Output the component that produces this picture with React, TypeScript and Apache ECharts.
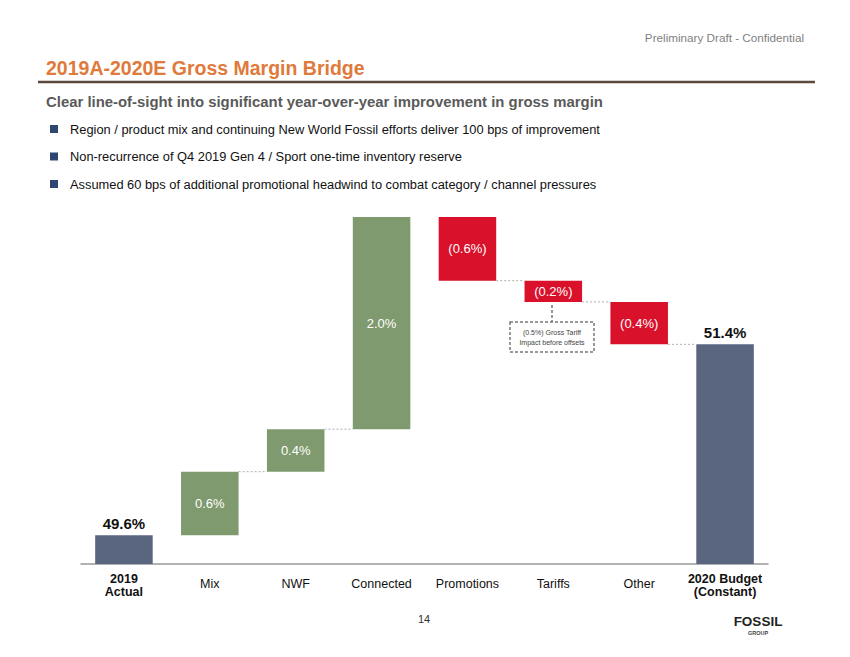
import React, { useEffect, useRef } from "react";
import * as echarts from "echarts";

const categories = ["2019\nActual", "Mix", "NWF", "Connected", "Promotions", "Tariffs", "Other", "2020 Budget\n(Constant)"];
const startValue = 49.6;
const deltas = [0.6, 0.4, 2.0, -0.6, -0.2, -0.4];
const endValue = 51.4;
const connectorFrom = [1, 2, 4, 5, 6];
const bullets = [
  "Region / product mix and continuing New World Fossil efforts deliver 100 bps of improvement",
  "Non-recurrence of Q4 2019 Gen 4 / Sport one-time inventory reserve",
  "Assumed 60 bps of additional promotional headwind to combat category / channel pressures",
];

const NAVY = "#5a6680";
const GREEN = "#7f9a6e";
const RED = "#d9112b";
const FONT = "Liberation Sans, Arial, sans-serif";

export default function App() {
  const ref = useRef<HTMLDivElement>(null);
  useEffect(() => {
    if (!ref.current) return;
    const chart = echarts.init(ref.current, undefined, { renderer: "svg" });

    const helper: (number | string)[] = ["-"];
    const visible: any[] = [];
    const levels: number[] = [startValue];
    visible.push({
      value: startValue,
      itemStyle: { color: NAVY },
      label: { show: true, position: "top", distance: 4, color: "#111", fontWeight: "bold", fontSize: 15, formatter: startValue.toFixed(1) + "%" },
    });
    let run = startValue;
    deltas.forEach((d) => {
      const base = d >= 0 ? run : run + d;
      helper.push(base);
      visible.push({
        value: Math.abs(d),
        itemStyle: { color: d >= 0 ? GREEN : RED },
        label: {
          show: true,
          position: "inside",
          color: "#fff",
          fontSize: 13,
          formatter: d >= 0 ? d.toFixed(1) + "%" : "(" + Math.abs(d).toFixed(1) + "%)",
        },
      });
      run = run + d;
      levels.push(run);
    });
    helper.push("-");
    visible.push({
      value: endValue,
      itemStyle: { color: NAVY },
      label: { show: true, position: "top", distance: 4, color: "#111", fontWeight: "bold", fontSize: 15, formatter: endValue.toFixed(1) + "%" },
    });

    const connectors = connectorFrom.map((i) => [i, levels[i]]);

    const textEl = (x: number, y: number, text: string, style: any) => ({
      type: "text",
      x,
      y,
      style: { text, fontFamily: FONT, textVerticalAlign: "middle", ...style },
    });

    const graphic: any[] = [
      textEl(804, 37, "Preliminary Draft - Confidential", { fill: "#7f7f7f", fontSize: 11.7, textAlign: "right" }),
      textEl(46, 68, "2019A-2020E Gross Margin Bridge", { fill: "#e07a3a", fontSize: 19.5, fontWeight: "bold" }),
      { type: "line", shape: { x1: 38, y1: 82, x2: 815, y2: 82 }, style: { stroke: "#5b4a3c", lineWidth: 2.5 } },
      textEl(46, 102, "Clear line-of-sight into significant year-over-year improvement in gross margin", { fill: "#5a5a5a", fontSize: 14.9, fontWeight: "bold" }),
      textEl(424, 619, "14", { fill: "#333", fontSize: 11, textAlign: "center" }),
      textEl(758, 621, "FOSSIL", { fill: "#222", fontSize: 13.5, fontWeight: "bold", textAlign: "center" }),
      textEl(758, 633, "GROUP", { fill: "#444", fontSize: 5.5, fontWeight: "bold", textAlign: "center" }),
      { type: "line", shape: { x1: 552, y1: 305, x2: 552, y2: 322 }, style: { stroke: "#777", lineWidth: 1.5, lineDash: [3, 2] } },
      { type: "rect", shape: { x: 510, y: 322, width: 84, height: 30 }, style: { fill: "#fff", stroke: "#777", lineWidth: 1.5, lineDash: [3, 2] } },
      textEl(552, 332, "(0.5%) Gross Tariff", { fill: "#444", fontSize: 7, textAlign: "center" }),
      textEl(552, 342, "Impact before offsets", { fill: "#444", fontSize: 7, textAlign: "center" }),
    ];
    bullets.forEach((b, i) => {
      const y = 129 + i * 27.5;
      graphic.push({ type: "rect", shape: { x: 50, y: y - 4, width: 8, height: 8 }, style: { fill: "#2e4670" } });
      graphic.push(textEl(70, y, b, { fill: "#111", fontSize: 12.85 }));
    });

    const lastIdx = categories.length - 1;
    chart.setOption({
      animation: false,
      textStyle: { fontFamily: FONT },
      grid: { left: 81, right: 82, top: 217, bottom: 93 },
      xAxis: {
        type: "category",
        data: categories.map((c, i) => {
          const isTotal = i === 0 || i === lastIdx;
          return {
            value: c,
            textStyle: isTotal ? { fontWeight: "bold" } : { fontWeight: "normal", padding: [5, 0, 0, 0] },
          };
        }),
        axisLine: { lineStyle: { color: "#999", width: 1.5 } },
        axisTick: { show: false },
        axisLabel: { color: "#111", fontSize: 12.5, lineHeight: 13, margin: 8, interval: 0 },
      },
      yAxis: {
        type: "value",
        min: 49.33,
        max: 52.6,
        show: false,
        splitLine: { show: false },
      },
      series: [
        {
          type: "bar",
          stack: "w",
          data: helper,
          itemStyle: { color: "transparent" },
          barWidth: "67%",
          silent: true,
        },
        {
          type: "bar",
          stack: "w",
          data: visible,
          barWidth: "67%",
        },
        {
          type: "custom",
          data: connectors,
          z: 5,
          renderItem: (params: any, api: any) => {
            const p = api.coord([api.value(0), api.value(1)]);
            const w = api.size([1, 0])[0];
            return {
              type: "line",
              shape: { x1: p[0] + w * 0.335, y1: p[1], x2: p[0] + w * 0.665, y2: p[1] },
              style: { stroke: "#b0b0b0", lineWidth: 1, lineDash: [2, 2] },
            };
          },
        },
      ],
      graphic,
    });
    return () => chart.dispose();
  }, []);
  return <div ref={ref} style={{ position: "absolute", left: 0, top: 0, width: 850, height: 657 }} />;
}
